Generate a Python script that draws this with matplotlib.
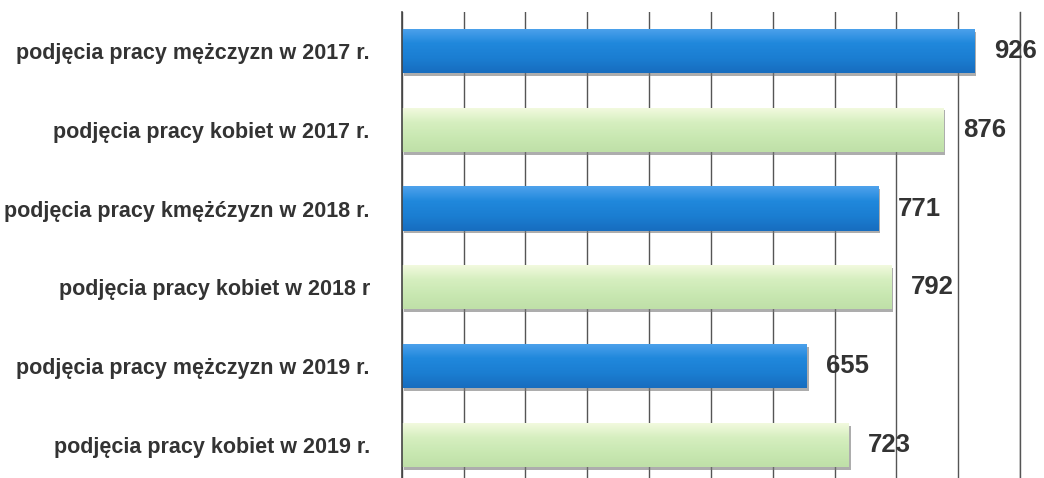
import numpy as np
from matplotlib import pyplot as plt
import matplotlib.patheffects as pe
from matplotlib.colors import LinearSegmentedColormap

categories = [
    'podjęcia pracy mężczyzn w 2017 r.',
    'podjęcia pracy kobiet w 2017 r.',
    'podjęcia pracy kmężćzyzn w 2018 r.',
    'podjęcia pracy kobiet w 2018 r',
    'podjęcia pracy mężczyzn w 2019 r.',
    'podjęcia pracy kobiet w 2019 r.',
]
values = [926, 876, 771, 792, 655, 723]
groups = ['m', 'k', 'm', 'k', 'm', 'k']

blue_cmap = LinearSegmentedColormap.from_list('blue', ['#4ea2ec', '#2088dc', '#1b7ed2', '#176dbf'])
green_cmap = LinearSegmentedColormap.from_list('green', ['#f4fae0', '#d6efc0', '#c9e8b2', '#bfe0a8'])

plt.rcParams['font.family'] = ['Liberation Sans', 'DejaVu Sans']

fig = plt.figure(figsize=(10.44, 4.78), dpi=100)
ax = fig.add_axes([0.3848, 0.0, 0.977 - 0.3848, 0.975])

y = np.arange(len(values))
colors = ['#1f86dc' if g == 'm' else '#d2edbc' for g in groups]
bars = ax.barh(y, values, height=0.56, color=colors, zorder=3)

# gradient fill + soft shadow
gradient = np.linspace(0, 1, 64).reshape(-1, 1)
for bar, g in zip(bars, groups):
    bar.set_path_effects([pe.SimplePatchShadow(offset=(1.5, -2), shadow_rgbFace='#777777', alpha=0.6), pe.Normal()])
    x0, y0 = bar.get_x(), bar.get_y()
    w, h = bar.get_width(), bar.get_height()
    im = ax.imshow(gradient, cmap=blue_cmap if g == 'm' else green_cmap, aspect='auto',
                   extent=(x0, x0 + w, y0 + h, y0), zorder=4)
    im.set_clip_path(bar)

for bar, v in zip(bars, values):
    ax.annotate(str(v), xy=(v, bar.get_y() + bar.get_height() / 2), xytext=(14, 0),
                textcoords='offset points', va='center', ha='left',
                fontsize=18.5, fontweight='bold', color='#333333', zorder=6,
                annotation_clip=False)

ax.set_xlim(0, 1000)
ax.set_ylim(5.42, -0.495)
ax.set_xticks(np.arange(0, 1001, 100))
ax.xaxis.grid(True, color='#555555', linewidth=1.0, zorder=1)
ax.tick_params(axis='x', length=0, labelbottom=False)
ax.set_yticks(y)
ax.set_yticklabels(categories, fontsize=15.5, fontweight='bold', color='#333333')
ax.tick_params(axis='y', length=0, pad=23)
for side in ['top', 'bottom']:
    ax.spines[side].set_visible(False)
ax.spines['right'].set_color('#555555')
ax.spines['right'].set_linewidth(1.0)
ax.spines['left'].set_color('#444444')
ax.spines['left'].set_linewidth(1.2)
ax.spines['left'].set_zorder(5)

fig.savefig('out.png', dpi=100)
